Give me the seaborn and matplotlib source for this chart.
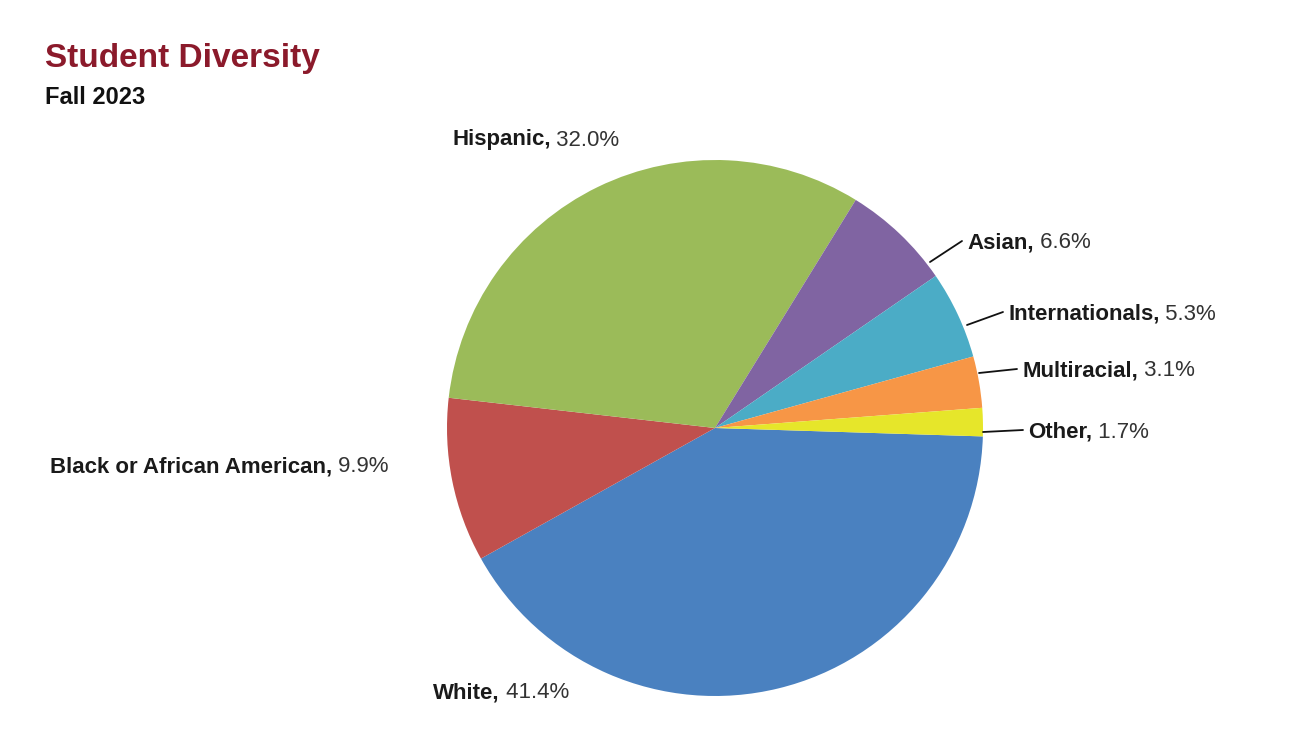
import matplotlib
matplotlib.use("Agg")
import matplotlib.pyplot as plt
import seaborn as sns

categories = ["White", "Black or African American", "Hispanic", "Asian",
              "Internationals", "Multiracial", "Other"]
shares = [41.4, 9.9, 32.0, 6.6, 5.3, 3.1, 1.7]
colors = ["#4a81c0", "#c0504d", "#9bbb59", "#8064a2", "#4bacc6", "#f79646", "#e6e62a"]

# label anchors in pixel space (x, y from top), and optional leader line start
label_pos = {
    "White": (433, 693, None),
    "Black or African American": (50, 467, None),
    "Hispanic": (452, 140, None),
    "Asian": (967, 243, (930, 262)),
    "Internationals": (1008, 314, (967, 325)),
    "Multiracial": (1022, 371, (979, 373)),
    "Other": (1028, 432, (983, 432)),
}

sns.set_theme(style="white")
fam = ["Liberation Sans Narrow", "Liberation Sans", "DejaVu Sans"]
plt.rcParams["font.family"] = fam

H = 750
fig = plt.figure(figsize=(13.02, 7.5), dpi=100)
ax = fig.add_axes([0, 0, 1, 1])
ax.set_xlim(0, 1302)
ax.set_ylim(0, H)
ax.axis("off")

ax.pie(shares, colors=sns.color_palette(colors), startangle=-1.8, counterclock=False,
       center=(715, H - 428), radius=268, frame=True,
       wedgeprops=dict(linewidth=0))
ax.set_xlim(0, 1302)
ax.set_ylim(0, H)
ax.axis("off")

for cat, val in zip(categories, shares):
    x, y, start = label_pos[cat]
    t = ax.text(x, H - y, f"{cat},", fontsize=16, fontweight="bold", color="#1a1a1a",
                va="center", ha="left")
    ax.annotate(f" {val:.1f}%", xy=(1, 0.5), xycoords=t, fontsize=16,
                color="#333333", va="center", ha="left")
    if start is not None:
        ax.plot([start[0], x - 5], [H - start[1], H - y + 2], color="#111111", lw=1.3)

fig.text(45 / 1302, 1 - 58 / H, "Student Diversity", fontsize=24, fontweight="bold",
         color="#8b1a2b", va="center")
fig.text(45 / 1302, 1 - 97 / H, "Fall 2023", fontsize=17, fontweight="bold",
         color="#111111", va="center")

fig.savefig("out.png", dpi=100, facecolor="white")
